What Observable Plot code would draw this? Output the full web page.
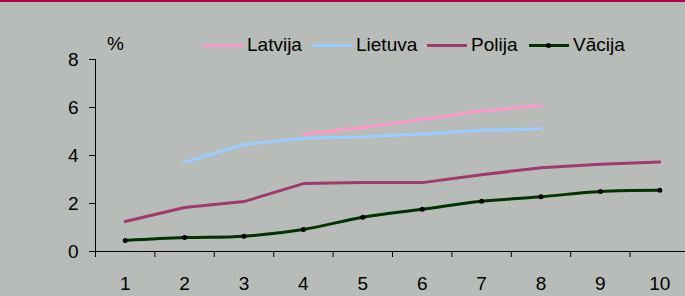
<!DOCTYPE html>
<html><head><meta charset="utf-8">
<script src="https://cdn.jsdelivr.net/npm/d3@7"></script>
<script src="https://cdn.jsdelivr.net/npm/@observablehq/plot@0.6"></script>
<style>
html,body{margin:0;padding:0;background:#b7bcb8;}
#wrap{position:relative;width:685px;height:296px;overflow:hidden;font-family:"Liberation Sans",Arial,sans-serif;background:#b7bcb8;}
#chart{position:absolute;left:0;top:0;}
#topbar{position:absolute;left:0;top:0;width:685px;height:2px;background:#b0004e;}
.leg{position:absolute;top:34px;height:22px;font-size:19px;line-height:22px;color:#000;display:flex;align-items:center;white-space:nowrap;}
.sw{width:40px;height:3px;margin-right:4px;position:relative;}
.sw .mk{position:absolute;left:17px;top:-1px;width:5px;height:5px;border-radius:50%;background:#000;}
#pct{position:absolute;left:107px;top:33px;font-size:19px;line-height:22px;color:#000;}
</style></head><body>
<div id="wrap"><div id="chart"></div><div id="pct">%</div><div id="legend"></div><div id="topbar"></div></div>
<script>
const categories = [1, 2, 3, 4, 5, 6, 7, 8, 9, 10];
const latvija = [null, null, null, 4.9, 5.17, 5.5, 5.85, 6.08, null, null];
const lietuva = [null, 3.72, 4.46, 4.72, 4.78, 4.9, 5.05, 5.11, null, null];
const polija = [1.25, 1.83, 2.08, 2.83, 2.87, 2.87, 3.2, 3.49, 3.64, 3.73];
const vacija = [0.46, 0.58, 0.64, 0.92, 1.43, 1.76, 2.09, 2.28, 2.5, 2.55];
const seriesNames = ["Latvija", "Lietuva", "Polija", "Vācija"];
const seriesColors = ["#ff99cc", "#99ccff", "#a03a6c", "#003300"];
const yTicks = [0, 2, 4, 6, 8];

const boundaries = [categories[0] - 0.5, ...categories.map(c => c + 0.5)];
const rows = (vals, name) => categories.map((c, i) => ({x: c, y: vals[i], series: name})).filter(d => d.y != null);
const dLat = rows(latvija, seriesNames[0]);
const dLie = rows(lietuva, seriesNames[1]);
const dPol = rows(polija, seriesNames[2]);
const dVac = rows(vacija, seriesNames[3]);

const chart = Plot.plot({
  width: 685, height: 296,
  marginLeft: 95, marginRight: 0, marginTop: 59, marginBottom: 45,
  style: {background: "transparent", color: "#000", fontFamily: "Liberation Sans, Arial, sans-serif", fontSize: "19px", overflow: "hidden"},
  x: {type: "linear", domain: [boundaries[0], boundaries[boundaries.length - 1]], range: [95, 689]},
  y: {domain: [yTicks[0], yTicks[yTicks.length - 1]], range: [251, 59]},
  marks: [
    Plot.axisY({ticks: yTicks, tickSize: 6, tickPadding: 11, label: null, fontSize: 19, tickFormat: d => String(d)}),
    Plot.axisX({ticks: categories, tickSize: 0, tickPadding: 25, label: null, fontSize: 19, tickFormat: d => String(d)}),
    Plot.axisX({ticks: boundaries, tickSize: 6, text: null, label: null}),
    Plot.ruleY([yTicks[0]], {stroke: "#000"}),
    Plot.ruleX([boundaries[0]], {y1: yTicks[0], y2: yTicks[yTicks.length - 1], stroke: "#000"}),
    Plot.line(dLat, {x: "x", y: "y", stroke: seriesColors[0], strokeWidth: 3, curve: "catmull-rom"}),
    Plot.line(dLie, {x: "x", y: "y", stroke: seriesColors[1], strokeWidth: 3}),
    Plot.line(dPol, {x: "x", y: "y", stroke: seriesColors[2], strokeWidth: 3}),
    Plot.line(dVac, {x: "x", y: "y", stroke: seriesColors[3], strokeWidth: 3, curve: "catmull-rom"}),
    Plot.dot(dVac, {x: "x", y: "y", r: 2.5, fill: "#000"})
  ]
});
document.getElementById("chart").appendChild(chart);

const legendLefts = [203, 312, 427, 529];
const legend = document.getElementById("legend");
seriesNames.forEach((name, i) => {
  const item = document.createElement("div");
  item.className = "leg";
  item.style.left = legendLefts[i] + "px";
  const sw = document.createElement("div");
  sw.className = "sw";
  sw.style.background = seriesColors[i];
  if (i === 3) { const mk = document.createElement("div"); mk.className = "mk"; sw.appendChild(mk); }
  item.appendChild(sw);
  const t = document.createElement("span");
  t.textContent = name;
  item.appendChild(t);
  legend.appendChild(item);
});
</script>
</body></html>
